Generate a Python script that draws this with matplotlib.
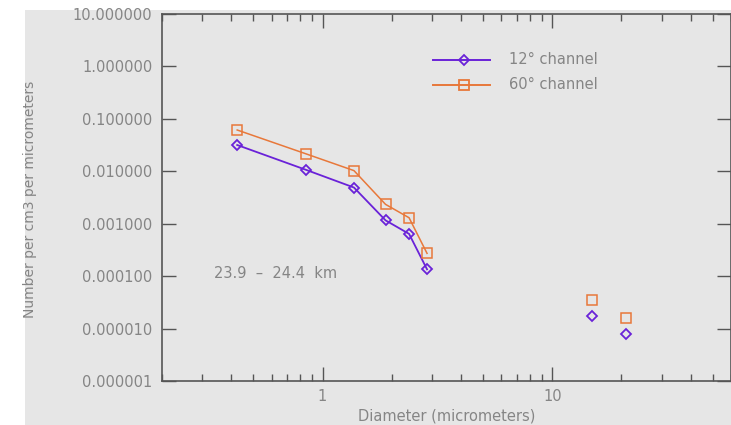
import matplotlib.pyplot as plt
from matplotlib.patches import Rectangle
from matplotlib.ticker import LogLocator, FixedLocator, NullFormatter, FuncFormatter

# size distribution, 23.9 - 24.4 km layer
diam = [0.425, 0.85, 1.37, 1.88, 2.38, 2.85]
diam_big = [14.9, 21.0]

n12 = [0.0317, 0.0106, 0.0049, 0.00116, 0.00064, 0.000135]
n12_big = [1.74e-5, 7.9e-6]

n60 = [0.0613, 0.0214, 0.0103, 0.00234, 0.0013, 0.000272]
n60_big = [3.5e-5, 1.61e-5]

purple = "#6a22d8"
orange = "#e8783a"
grey_txt = "#858585"
bg = "#e6e6e6"

plt.rcParams["font.family"] = ["DejaVu Sans"]

fig = plt.figure(figsize=(7.31, 4.25), dpi=100)
fig.patch.set_facecolor("white")
fig.patches.append(Rectangle((25 / 731, 0), 1, 1 - 10 / 425, transform=fig.transFigure,
                             facecolor=bg, edgecolor="none", zorder=-10))

ax = fig.add_axes([162 / 731, 1 - 381 / 425, 1 - 162 / 731, (381 - 14) / 425])
ax.set_facecolor(bg)
ax.set_xscale("log")
ax.set_yscale("log")
ax.set_xlim(0.2, 60)
ax.set_ylim(1e-6, 10)

ax.plot(diam, n12, "-", color=purple, lw=1.3, marker="D", ms=5.5, mfc="none", mec=purple, mew=1.3)
ax.plot(diam_big, n12_big, linestyle="none", marker="D", ms=5.5, mfc="none", mec=purple, mew=1.3)
ax.plot(diam, n60, "-", color=orange, lw=1.1, marker="s", ms=6.5, mfc="none", mec=orange, mew=1.1)
ax.plot(diam_big, n60_big, linestyle="none", marker="s", ms=6.5, mfc="none", mec=orange, mew=1.1)

# legend drawn by hand in axes fraction coords
for yy, col, mk, lab, ms in [(0.875, purple, "D", "12\u00b0 channel", 5.5),
                             (0.807, orange, "s", "60\u00b0 channel", 6.5)]:
    ax.plot([0.476, 0.577], [yy, yy], color=col, lw=1.4, transform=ax.transAxes, clip_on=False)
    ax.plot([0.53], [yy], color=col, marker=mk, ms=ms, mfc="none", mew=1.3,
            transform=ax.transAxes, clip_on=False)
    ax.text(0.61, yy, lab, transform=ax.transAxes, va="center", ha="left",
            fontsize=10.5, color=grey_txt)

ax.text(0.092, 0.294, "23.9  \u2013  24.4  km", transform=ax.transAxes,
        fontsize=10.5, color=grey_txt, va="center", ha="left")

ax.yaxis.set_major_locator(FixedLocator([1e-6, 1e-5, 1e-4, 1e-3, 1e-2, 1e-1, 1, 10]))
ax.yaxis.set_minor_locator(FixedLocator([]))
ax.yaxis.set_major_formatter(FuncFormatter(lambda v, p: "%.6f" % v))
ax.xaxis.set_major_locator(LogLocator(base=10, numticks=10))
ax.xaxis.set_minor_locator(LogLocator(base=10, subs=range(2, 10), numticks=20))
ax.xaxis.set_minor_formatter(NullFormatter())
ax.xaxis.set_major_formatter(FuncFormatter(lambda v, p: "%g" % v))

ax.tick_params(which="both", direction="in", top=True, right=True,
               colors="#555555", labelcolor=grey_txt, labelsize=10.5)
ax.tick_params(axis="y", which="major", length=10, width=1, pad=7)
ax.tick_params(axis="x", which="major", length=10, width=1, pad=6)
ax.tick_params(axis="x", which="minor", length=5, width=1)
for s in ax.spines.values():
    s.set_color("#555555")
    s.set_linewidth(1.2)

ax.set_xlabel("Diameter (micrometers)", fontsize=10.5, color=grey_txt, labelpad=3)
fig.text(30 / 731, 1 - 199 / 425, "Number per cm3 per micrometers", rotation=90,
         fontsize=10, color=grey_txt, ha="center", va="center")

fig.savefig("out.png", dpi=100)
